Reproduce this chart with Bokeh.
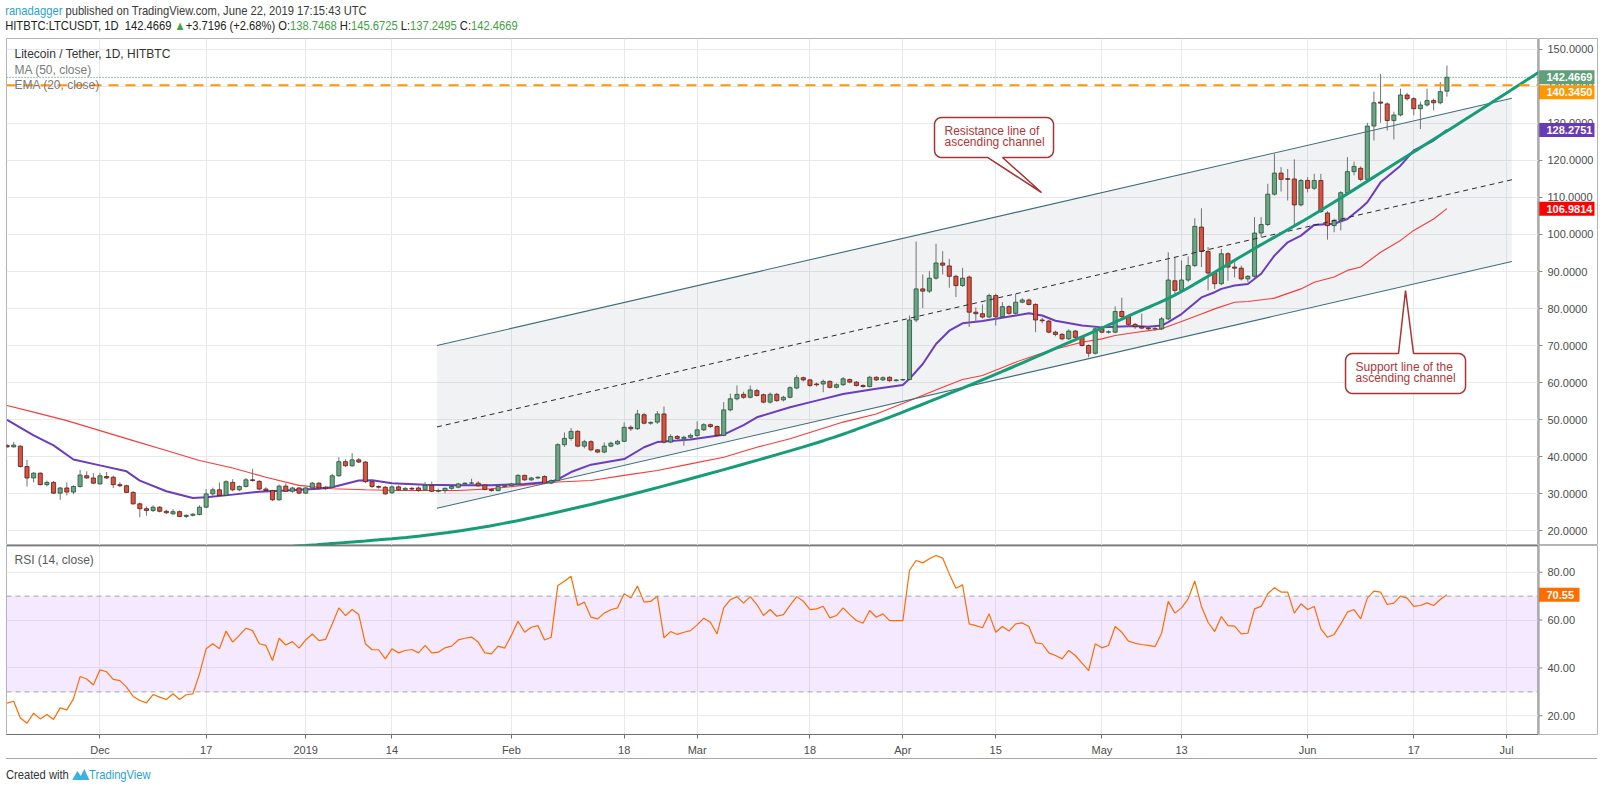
import numpy as np
import pandas as pd
from bokeh.plotting import figure
from bokeh.models import Range1d, FixedTicker, Label, Span, Div
from bokeh.layouts import column, row
from bokeh.core.properties import value
from bokeh.embed import file_html
from bokeh.resources import INLINE

# ---------------- data ----------------
BASE = pd.Timestamp("2018-12-01")
candle_dates = pd.date_range("2018-11-17", "2019-06-22", freq="D")

opens = [43.0, 42.6, 42.8, 37.3, 34.2, 35.5, 32.4, 33.0, 30.1, 31.5,
         30.4, 31.9, 34.8, 34.2, 32.6, 34.6, 34.4, 32.4, 32.1, 30.3,
         27.2, 25.9, 25.4, 26.3, 25.2, 24.5, 25.1, 23.8, 24.1, 24.3,
         26.3, 29.9, 31.0, 29.5, 33.0, 31.0, 31.9, 33.7, 33.3, 31.2,
         30.8, 28.3, 32.0, 30.6, 31.5, 30.1, 31.5, 32.8, 31.7, 31.7,
         34.8, 38.6, 37.5, 39.1, 38.5, 33.2, 31.9, 31.7, 30.2, 31.8,
         31.0, 31.4, 31.5, 31.0, 32.2, 30.6, 30.8, 31.4, 31.7, 32.6,
         32.8, 32.8, 32.3, 31.1, 30.8, 31.9, 32.2, 32.6, 34.9, 33.7,
         34.2, 34.6, 32.8, 33.5, 43.2, 44.9, 46.8, 42.8, 44.0, 41.8,
         41.2, 42.8, 43.4, 44.1, 47.9, 47.5, 51.3, 49.0, 49.3, 51.5,
         43.9, 45.4, 44.9, 45.2, 45.7, 47.2, 48.6, 48.1, 45.7, 52.6,
         55.6, 56.8, 56.0, 57.8, 56.7, 54.7, 56.8, 55.3, 56.0, 58.5,
         61.3, 60.7, 59.6, 59.6, 60.3, 58.7, 59.4, 60.8, 60.1, 59.2,
         58.9, 61.4, 60.7, 61.4, 60.5, 60.7, 60.8, 76.9, 85.3, 84.7,
         88.2, 92.3, 91.5, 88.7, 86.2, 88.5, 79.0, 78.6, 77.7, 83.5,
         77.8, 80.5, 78.7, 81.7, 82.3, 81.1, 76.9, 76.6, 73.6, 73.0,
         71.8, 73.9, 72.2, 70.0, 67.9, 74.5, 73.6, 73.6, 79.2, 77.8,
         75.7, 75.1, 74.7, 74.5, 74.5, 77.2, 87.5, 84.9, 87.7, 91.6,
         102.0, 95.4, 89.6, 86.7, 94.8, 91.2, 90.9, 88.0, 88.7, 100.4,
         102.7, 110.9, 116.6, 115.1, 115.0, 108.0, 114.6, 112.5, 114.6, 105.8,
         102.4, 103.8, 111.3, 117.0, 117.9, 114.9, 129.3, 135.8, 135.3, 130.8,
         132.3, 137.7, 136.7, 134.0, 135.0, 136.2, 135.6, 138.7468]

highs = [43.3, 43.9, 43.0, 39.1, 35.8, 35.7, 33.5, 33.4, 31.8, 33.0,
         32.2, 36.4, 36.0, 35.5, 35.6, 35.8, 34.8, 33.1, 32.4, 30.6,
         27.6, 26.5, 26.8, 26.6, 25.6, 25.8, 25.4, 24.4, 24.7, 26.8,
         31.2, 31.6, 33.0, 33.6, 33.9, 32.2, 34.2, 36.7, 33.6, 31.7,
         31.0, 32.4, 32.7, 31.8, 31.7, 31.8, 33.1, 33.0, 32.0, 35.3,
         39.8, 39.3, 40.9, 39.6, 38.8, 33.6, 32.2, 32.0, 32.2, 32.2,
         31.7, 31.8, 31.9, 33.1, 33.2, 31.3, 31.6, 32.1, 32.9, 33.0,
         34.0, 33.3, 32.5, 31.4, 32.3, 32.4, 32.9, 35.2, 35.1, 34.5,
         34.6, 34.9, 33.8, 43.6, 46.5, 47.7, 47.1, 44.5, 44.4, 42.0,
         43.8, 44.0, 44.5, 49.2, 48.4, 52.6, 51.8, 49.5, 52.3, 53.5,
         46.0, 45.8, 45.6, 46.2, 49.5, 49.0, 48.9, 48.4, 54.7, 57.0,
         59.2, 57.5, 59.2, 58.3, 57.0, 57.3, 57.2, 56.4, 59.0, 62.0,
         61.6, 61.0, 60.0, 60.8, 60.6, 59.8, 61.5, 61.1, 60.4, 59.5,
         61.8, 61.7, 61.7, 61.7, 60.9, 61.0, 78.1, 98.1, 89.2, 90.1,
         97.5, 95.5, 93.4, 89.1, 91.0, 88.9, 80.3, 81.1, 84.0, 84.0,
         81.7, 80.9, 84.0, 82.8, 82.7, 81.4, 77.5, 76.9, 74.0, 73.4,
         74.4, 74.2, 72.5, 70.3, 74.9, 75.3, 74.1, 80.6, 82.9, 78.2,
         76.1, 78.6, 75.1, 75.0, 77.7, 95.2, 93.9, 93.0, 94.1, 104.4,
         107.1, 96.6, 90.0, 96.1, 95.2, 92.5, 91.6, 89.0, 104.7, 104.7,
         113.7, 121.8, 118.2, 117.7, 120.3, 115.0, 115.5, 116.4, 116.4, 106.3,
         104.3, 111.7, 120.9, 119.7, 118.4, 130.2, 138.6, 143.4, 135.7, 133.2,
         139.4, 138.3, 137.1, 135.9, 139.4, 136.7, 141.2, 145.6725]

lows = [42.4, 42.4, 37.0, 31.9, 33.0, 32.2, 31.9, 29.9, 28.3, 29.5,
        29.8, 31.6, 34.0, 32.5, 32.4, 33.9, 31.5, 31.7, 30.1, 27.0,
        23.6, 24.0, 25.0, 24.9, 24.5, 24.3, 23.6, 23.4, 23.8, 24.1,
        26.0, 29.4, 29.2, 29.3, 30.6, 30.6, 31.6, 33.2, 30.9, 30.5,
        28.0, 28.1, 30.4, 30.2, 29.8, 29.9, 31.2, 31.2, 31.0, 31.5,
        34.5, 37.2, 37.2, 38.2, 32.8, 31.5, 31.3, 29.7, 29.9, 30.8,
        30.7, 30.9, 30.5, 30.8, 30.4, 30.3, 30.1, 31.0, 31.4, 32.3,
        32.5, 31.8, 30.9, 30.5, 30.6, 31.6, 31.9, 32.3, 33.4, 33.4,
        33.9, 32.5, 32.5, 33.3, 42.6, 44.3, 42.5, 42.2, 41.4, 40.9,
        40.9, 42.5, 43.1, 43.9, 46.9, 47.2, 48.7, 48.6, 48.8, 43.5,
        43.6, 44.6, 42.9, 44.8, 45.3, 46.9, 47.7, 45.4, 45.5, 52.2,
        55.2, 55.6, 55.7, 56.2, 54.4, 54.3, 54.8, 54.9, 55.7, 58.2,
        60.3, 58.8, 58.9, 57.4, 58.4, 58.4, 59.1, 59.8, 58.9, 58.6,
        58.7, 60.4, 60.4, 60.2, 60.3, 60.4, 60.6, 76.3, 80.1, 84.2,
        87.8, 89.2, 85.6, 83.1, 85.8, 75.0, 76.3, 77.3, 77.4, 75.4,
        77.5, 78.3, 78.4, 81.4, 80.8, 73.6, 76.0, 73.3, 72.5, 71.4,
        71.5, 71.9, 69.7, 66.8, 67.6, 73.3, 73.2, 73.3, 77.4, 75.3,
        74.5, 74.4, 74.1, 74.0, 74.2, 76.9, 84.0, 84.5, 87.2, 91.2,
        91.2, 84.9, 85.3, 86.3, 87.5, 88.4, 87.6, 87.1, 88.3, 99.3,
        102.3, 110.5, 111.6, 109.2, 102.6, 107.6, 111.4, 112.0, 105.8, 98.6,
        100.6, 101.1, 110.9, 116.0, 114.4, 114.5, 125.4, 130.2, 128.1, 125.7,
        131.9, 136.2, 132.2, 128.5, 134.6, 133.5, 135.2, 137.2495]

closes = [42.6, 43.1, 37.3, 34.2, 35.5, 32.4, 33.0, 30.1, 31.5, 30.4,
          31.9, 35.0, 34.2, 32.8, 34.8, 34.2, 32.4, 32.1, 30.3, 27.2,
          25.9, 25.4, 26.3, 25.2, 24.8, 25.1, 23.8, 24.1, 24.4, 26.3,
          29.9, 31.0, 29.5, 33.2, 31.0, 31.9, 33.7, 33.5, 31.2, 30.8,
          28.3, 32.0, 30.6, 31.5, 30.1, 31.5, 32.8, 31.5, 31.3, 34.8,
          38.6, 37.5, 39.1, 38.5, 33.2, 31.9, 31.7, 29.9, 31.8, 31.0,
          31.4, 31.2, 30.8, 32.2, 30.6, 30.8, 31.4, 31.9, 32.6, 32.8,
          32.85, 32.1, 31.1, 30.8, 31.9, 32.1, 32.6, 34.9, 33.7, 34.2,
          34.4, 32.8, 33.5, 43.2, 44.9, 46.8, 42.8, 44.0, 41.8, 41.2,
          42.8, 43.6, 44.1, 47.9, 47.5, 51.5, 49.0, 49.2, 51.5, 43.9,
          45.4, 44.9, 45.2, 45.7, 47.2, 48.6, 48.1, 45.7, 52.6, 55.6,
          56.8, 56.0, 58.0, 56.5, 54.7, 56.8, 55.1, 56.0, 58.6, 61.3,
          60.7, 59.2, 59.4, 60.3, 58.7, 59.4, 61.0, 60.1, 59.2, 58.9,
          61.4, 60.7, 61.3, 60.5, 60.7, 60.8, 76.9, 85.3, 84.7, 88.2,
          92.3, 91.7, 88.7, 86.2, 88.2, 79.0, 78.6, 77.7, 83.5, 77.8,
          80.5, 78.7, 81.7, 82.3, 81.1, 76.9, 76.7, 73.6, 73.0, 71.8,
          73.9, 72.2, 70.0, 67.9, 74.5, 73.6, 73.7, 79.2, 77.8, 75.7,
          75.1, 74.7, 74.5, 74.6, 77.2, 87.7, 84.9, 87.7, 91.6, 102.2,
          95.4, 89.6, 86.7, 94.8, 91.2, 90.9, 88.0, 88.7, 100.4, 102.7,
          110.9, 116.6, 114.9, 114.9, 108.0, 114.6, 112.5, 114.6, 106.2, 102.4,
          103.8, 111.3, 117.0, 118.4, 114.9, 129.3, 135.6, 135.5, 130.8, 132.3,
          137.7, 136.7, 134.0, 135.0, 136.2, 135.6, 138.6, 142.4669]

rsi14 = [25.3, 26.1, 19.1, 16.9, 21.1, 18.7, 20.5, 18.5, 23.3, 22.5,
         27.1, 36.4, 35.4, 32.9, 39.2, 38.4, 35.2, 34.7, 32.0, 28.1,
         26.4, 25.4, 28.9, 27.8, 26.8, 29.2, 26.8, 28.8, 29.2, 37.5,
         48.0, 50.1, 48.0, 55.4, 50.8, 53.6, 56.6, 55.6, 50.1, 49.4,
         43.1, 52.4, 49.6, 51.0, 48.3, 51.7, 54.2, 51.4, 51.9, 58.4,
         65.1, 61.9, 64.4, 62.3, 50.1, 47.6, 47.6, 43.8, 48.0, 46.3,
         47.3, 47.7, 46.3, 49.4, 46.3, 46.6, 48.4, 49.1, 51.7, 52.4,
         52.9, 50.8, 46.3, 45.9, 49.1, 48.3, 53.6, 59.5, 54.9, 57.0,
         57.7,
         51.7, 52.8, 74.4, 76.2, 78.3, 66.1, 67.5, 61.2, 60.5, 62.9,
         64.3, 65.1, 71.0, 69.2, 74.2, 67.5, 67.8, 70.0, 52.6, 55.2,
         54.0, 54.9, 55.6, 58.0, 60.8, 59.1, 54.2, 65.1, 68.5, 69.8,
         67.1, 69.8, 66.5, 61.9, 64.4, 61.6, 62.3, 66.1, 69.8, 67.9,
         64.4, 64.7, 65.8, 60.9, 61.9, 65.1, 62.3, 59.8, 58.7, 64.0,
         61.2, 62.6, 59.8, 59.8, 59.8, 80.7, 84.9, 83.9, 85.6, 87.0,
         85.9, 79.3, 73.3, 74.7, 58.4, 57.7, 56.8, 62.6, 54.9, 57.3,
         55.4, 58.4, 58.8, 57.3, 50.5, 50.1, 46.3, 45.2, 43.8, 47.3,
         45.2, 42.0, 38.9, 50.1, 48.4, 49.4, 57.3, 54.9, 51.2, 50.3,
         49.8, 49.4, 48.9, 54.5, 67.8, 62.9, 65.1, 68.9, 76.3, 65.7,
         59.1, 55.2, 61.5, 57.7, 57.5, 54.2, 54.5, 64.7, 65.7, 71.0,
         73.5, 71.7, 71.7, 62.9, 66.8, 64.4, 65.7, 56.3, 52.8, 54.0,
         58.4, 63.3, 64.4, 60.5, 69.2, 72.1, 71.7, 66.5, 67.1, 70.0,
         69.2, 65.7, 66.1, 67.2, 66.1, 68.6, 70.55]

ema20_dates = ["2018-11-17", "2018-11-21", "2018-11-24", "2018-11-27", "2018-12-01", "2018-12-05",
               "2018-12-07", "2018-12-11", "2018-12-15", "2018-12-17", "2018-12-21", "2018-12-25",
               "2018-12-29", "2019-01-03", "2019-01-05", "2019-01-09", "2019-01-11", "2019-01-14",
               "2019-01-19", "2019-01-24", "2019-01-29", "2019-02-03", "2019-02-07", "2019-02-08",
               "2019-02-10", "2019-02-13", "2019-02-18", "2019-02-21", "2019-02-23", "2019-02-26",
               "2019-02-28", "2019-03-05", "2019-03-08", "2019-03-10", "2019-03-15", "2019-03-19",
               "2019-03-23", "2019-03-28", "2019-04-01", "2019-04-02", "2019-04-04", "2019-04-06",
               "2019-04-08", "2019-04-10", "2019-04-13", "2019-04-18", "2019-04-20", "2019-04-22",
               "2019-04-24", "2019-04-28", "2019-05-01", "2019-05-03", "2019-05-06", "2019-05-08",
               "2019-05-10", "2019-05-11", "2019-05-13", "2019-05-16", "2019-05-18", "2019-05-19",
               "2019-05-21", "2019-05-23", "2019-05-25", "2019-05-27", "2019-05-29", "2019-05-31",
               "2019-06-02", "2019-06-05", "2019-06-07", "2019-06-09", "2019-06-10", "2019-06-12",
               "2019-06-15", "2019-06-17", "2019-06-20", "2019-06-22"]
ema20_vals = [49.9, 45.7, 43.0, 39.2, 37.6, 36.0, 33.5, 30.6, 28.8, 29.0, 29.7, 30.5, 30.8,
              31.3, 31.7, 33.5, 33.6, 32.8, 32.4, 32.2, 32.2, 32.6, 33.2, 33.8, 35.8, 37.8,
              39.3, 42.5, 43.9, 44.3, 44.6, 45.9, 48.5, 50.6, 53.3, 55.1, 56.9, 58.3, 59.3,
              61.0, 65.0, 70.4, 74.0, 76.0, 76.6, 78.1, 78.7, 78.1, 76.7, 75.4, 74.9, 75.1,
              75.3, 75.1, 75.4, 76.3, 78.5, 83.0, 84.4, 85.3, 86.2, 86.6, 89.4, 94.3, 97.9,
              99.7, 102.6, 102.9, 104.2, 107.1, 108.7, 114.1, 118.6, 122.7, 125.4, 128.2751]

ma50_dates = ["2018-11-17", "2018-11-21", "2018-11-26", "2018-12-01", "2018-12-06", "2018-12-11",
              "2018-12-16", "2018-12-21", "2018-12-26", "2018-12-31", "2019-01-05", "2019-01-10",
              "2019-01-15", "2019-01-24", "2019-01-29", "2019-02-05", "2019-02-08", "2019-02-13",
              "2019-02-18", "2019-02-23", "2019-02-28", "2019-03-05", "2019-03-10", "2019-03-15",
              "2019-03-23", "2019-03-28", "2019-04-02", "2019-04-07", "2019-04-10", "2019-04-13",
              "2019-04-18", "2019-04-23", "2019-04-28", "2019-05-01", "2019-05-03", "2019-05-06",
              "2019-05-10", "2019-05-13", "2019-05-16", "2019-05-18", "2019-05-21", "2019-05-23",
              "2019-05-27", "2019-05-31", "2019-06-02", "2019-06-05", "2019-06-07", "2019-06-09",
              "2019-06-12", "2019-06-15", "2019-06-17", "2019-06-20", "2019-06-22"]
ma50_vals = [53.8, 52.0, 49.7, 47.0, 44.3, 41.6, 38.9, 36.9, 34.4, 32.2, 31.3, 31.0, 30.8,
             30.8, 31.3, 32.6, 33.1, 33.5, 34.9, 36.2, 38.0, 39.8, 42.5, 44.8, 49.3, 51.5,
             55.1, 58.7, 60.8, 61.9, 65.5, 68.6, 70.9, 71.8, 72.7, 73.5, 74.5, 76.5, 78.5,
             79.9, 81.7, 81.9, 82.8, 85.3, 87.1, 88.5, 90.3, 91.2, 95.2, 98.4, 101.1, 104.2,
             106.9814]

tick_dates = ["2018-12-01", "2018-12-17", "2019-01-01", "2019-01-14", "2019-02-01", "2019-02-18",
              "2019-03-01", "2019-03-18", "2019-04-01", "2019-04-15", "2019-05-01", "2019-05-13",
              "2019-06-01", "2019-06-17", "2019-07-01"]
tick_labels = ["Dec", "17", "2019", "14", "Feb", "18", "Mar", "18", "Apr", "15", "May", "13",
               "Jun", "17", "Jul"]
price_ticks = [20, 30, 40, 50, 60, 70, 80, 90, 100, 110, 120, 130, 140, 150]
rsi_ticks = [20, 40, 60, 80]

# drawing tools (channel, curve, horizontal line)
channel_dates = ["2019-01-20 19:00", "2019-07-01 19:00"]
channel_upper = [70.0, 136.8]
channel_mid = [48.0, 114.8]
channel_lower = [26.0, 92.7]
curve_days = [20.0, 34.4, 54.6, 76.4, 104.1, 117.6, 132.7, 147.8, 155.3, 162.8, 173.8,
              183.5, 195.5, 205.5, 216.9]
curve_prices = [14.8, 16.4, 20.0, 28.1, 41.6, 49.7, 60.5, 72.2, 78.2, 84.4, 96.0,
                106.0, 119.5, 130.8, 143.9]
hline_level = 140.345
last_price = 142.4669


def to_day(s):
    return ((pd.to_datetime(pd.Series(s)) - BASE) / pd.Timedelta(days=1)).values


x = to_day(candle_dates)
o = np.array(opens); h = np.array(highs); l = np.array(lows); c = np.array(closes)
up = c >= o


# reference calibration (pixels -> data), used only to place drawings / texts
def px2day(px):
    return (px - 99.5) / 6.635


def px2price(py):
    return 150 - (py - 49) / 3.7


def smooth(xs, ys, n=10):
    P = [np.array(v) for v in zip(xs, ys)]
    P = [P[0]] + P + [P[-1]]
    out = []
    for i in range(1, len(P) - 2):
        p0, p1, p2, p3 = P[i - 1], P[i], P[i + 1], P[i + 2]
        for t in np.linspace(0, 1, n, endpoint=False):
            out.append(0.5 * (2 * p1 + (-p0 + p2) * t + (2 * p0 - 5 * p1 + 4 * p2 - p3) * t ** 2
                              + (-p0 + 3 * p1 - 3 * p2 + p3) * t ** 3))
    out.append(P[-2])
    out = np.array(out)
    return out[:, 0], out[:, 1]


FONT = "Liberation Sans"
FW = 1532
AXW = 60
xr = Range1d(-14.09, 216.8)
py_rng = Range1d(15.95, 152.97)
ry_rng = Range1d(12.19, 91.16)

UP, DOWN = "#6ba583", "#d75442"
UP_LINE, DOWN_LINE = "#225437", "#5b1a13"
GRID = "#e9e9eb"
BORDER = "#b4b4b4"
AXC = "#8c8c8c"
xt = [int(v) for v in to_day(tick_dates)]

# ---------------- main price panel ----------------
p = figure(frame_width=FW, frame_height=507, x_range=xr, y_range=py_rng,
           output_backend="svg", toolbar_location=None, x_axis_location=None,
           y_axis_location=None, min_border_left=6, min_border_right=0,
           min_border_top=0, min_border_bottom=0)
p.background_fill_color = "white"
p.border_fill_color = "white"
p.outline_line_color = BORDER
p.ygrid.grid_line_color = GRID
p.xgrid.grid_line_color = GRID
p.xgrid.ticker = FixedTicker(ticks=xt)
p.ygrid.ticker = FixedTicker(ticks=price_ticks)

cd = to_day(channel_dates)
p.patch(x=[cd[0], cd[1], cd[1], cd[0]],
        y=[channel_lower[0], channel_lower[1], channel_upper[1], channel_upper[0]],
        fill_color="#8f97a8", fill_alpha=0.13, line_color=None)

p.line(to_day(ma50_dates), ma50_vals, line_color="#f53b3b", line_width=1.1)
p.line(to_day(ema20_dates), ema20_vals, line_color="#6a3cbf", line_width=2)

p.segment(x0=x, y0=l, x1=x, y1=h, line_color="#737375", line_width=1)
p.vbar(x=x[up], bottom=o[up], top=c[up], width=0.62, fill_color=UP, line_color=UP_LINE,
       line_width=0.8)
p.vbar(x=x[~up], bottom=c[~up], top=o[~up], width=0.62, fill_color=DOWN,
       line_color=DOWN_LINE, line_width=0.8)

p.line(cd, channel_upper, line_color="#3f6e7a", line_width=1.1)
p.line(cd, channel_lower, line_color="#3f6e7a", line_width=1.1)
p.line(cd, channel_mid, line_color="#2a2a2a", line_width=1, line_dash="5 4")

sx, sy = smooth(curve_days, curve_prices)
p.line(sx, sy, line_color="#179c78", line_width=3)

p.add_layout(Span(location=last_price, dimension="width", line_color="#2f8a55",
                  line_width=1, line_dash="1 2"))
p.add_layout(Span(location=hline_level, dimension="width", line_color="#ff9800",
                  line_width=2, line_dash="10 7"))


def callout(L, T, R, B, rad, side, x1, x2, tip):
    pts = []

    def arc(cx, cy, a0, a1):
        for a in np.linspace(a0, a1, 7):
            pts.append((cx + rad * np.cos(a), cy + rad * np.sin(a)))

    arc(L + rad, T + rad, np.pi, 1.5 * np.pi)
    if side == "top":
        pts.extend([(x1, T), tip, (x2, T)])
    arc(R - rad, T + rad, 1.5 * np.pi, 2 * np.pi)
    arc(R - rad, B - rad, 0, 0.5 * np.pi)
    if side == "bottom":
        pts.extend([(x2, B), tip, (x1, B)])
    arc(L + rad, B - rad, 0.5 * np.pi, np.pi)
    p.patch([px2day(a) for a, b in pts], [px2price(b) for a, b in pts],
            fill_color="white", line_color="#a83434", line_width=1.5)


CALL = "#b0363a"
callout(934, 117, 1053, 157, 7, "bottom", 987, 1002, (1041, 192))
for txt, yy in [("Resistance line of", 130.5), ("ascending channel", 141.5)]:
    p.add_layout(Label(x=px2day(944), y=px2price(yy), text=txt, text_font=FONT,
                       text_font_size="12px", text_color=CALL, text_baseline="middle"))
callout(1345, 353, 1465, 393, 7, "top", 1398, 1413, (1405, 290))
for txt, yy in [("Support line of the", 366.5), ("ascending channel", 377.5)]:
    p.add_layout(Label(x=px2day(1355), y=px2price(yy), text=txt, text_font=FONT,
                       text_font_size="12px", text_color=CALL, text_baseline="middle"))

for txt, yy, col in [("Litecoin / Tether, 1D, HITBTC", 54, "#333333"),
                     ("MA (50, close)", 70, "#7a7a7a"),
                     ("EMA (20, close)", 85, "#7a7a7a")]:
    p.add_layout(Label(x=px2day(14), y=px2price(yy), text=txt, text_font=FONT,
                       text_font_size="12px", text_color=col, text_baseline="middle"))


# ---------------- right-hand price scales (axis column) ----------------
def axis_column(yr, frame_h, ticks, fmt, tags, bottom=0):
    a = figure(frame_width=AXW, frame_height=frame_h, x_range=Range1d(0, AXW), y_range=yr,
               output_backend="svg", toolbar_location=None, x_axis_location=None,
               y_axis_location=None, min_border_left=0, min_border_right=0,
               min_border_top=0, min_border_bottom=bottom)
    a.xgrid.visible = False
    a.ygrid.visible = False
    a.background_fill_color = "white"
    a.border_fill_color = "white"
    a.outline_line_color = BORDER
    a.add_layout(Span(location=0.5, dimension="height", line_color=AXC, line_width=1))
    a.segment(x0=[0] * len(ticks), x1=[4] * len(ticks), y0=ticks, y1=ticks, line_color=AXC)
    a.text(x=[9] * len(ticks), y=ticks, text=[fmt % t for t in ticks],
           text_font=value(FONT), text_font_size="11px", text_color="#4d4d4d",
           text_baseline="middle")
    unit = (yr.end - yr.start) / frame_h          # data units per pixel
    placed = []
    for val, bg, txt, wdt in sorted(tags, key=lambda t: -t[0]):
        ctr = val
        for prev in placed:
            if abs(prev - ctr) < 15 * unit:
                ctr = prev - 15 * unit
        placed.append(ctr)
        a.quad(left=[0], right=[wdt], bottom=[ctr - 7 * unit], top=[ctr + 7 * unit],
               fill_color=bg, line_color=None)
        a.text(x=[8], y=[ctr], text=[txt], text_font=value(FONT), text_font_size="11px",
               text_font_style="bold", text_color="white", text_baseline="middle")
    return a


pa = axis_column(py_rng, 507, price_ticks, "%.4f",
                 [(last_price, "#5f9f7a", "142.4669", 56),
                  (hline_level, "#ff9800", "140.3450", 56),
                  (ema20_vals[-1], "#673ab7", "128.2751", 56),
                  (ma50_vals[-1], "#ff0000", "106.9814", 56)])

# ---------------- RSI panel ----------------
r = figure(frame_width=FW, frame_height=189, x_range=xr, y_range=ry_rng,
           output_backend="svg", toolbar_location=None, y_axis_location=None,
           min_border_left=6, min_border_right=0, min_border_top=0, min_border_bottom=24)
r.background_fill_color = "white"
r.border_fill_color = "white"
r.outline_line_color = BORDER
r.ygrid.grid_line_color = GRID
r.xgrid.grid_line_color = GRID
r.ygrid.ticker = FixedTicker(ticks=rsi_ticks)
r.xaxis.ticker = FixedTicker(ticks=xt)
r.xaxis.major_label_overrides = {d: lab for d, lab in zip(xt, tick_labels)}
r.xaxis.major_label_text_font = FONT
r.xaxis.major_label_text_font_size = "11px"
r.xaxis.major_label_text_color = "#4d4d4d"
r.xaxis.axis_line_color = "#6f6f6f"
r.xaxis.major_tick_line_color = "#6f6f6f"
r.xaxis.major_tick_out = 4
r.xaxis.major_tick_in = 0
r.xaxis.minor_tick_line_color = None
r.xaxis.major_label_standoff = 5

r.quad(left=xr.start, right=xr.end, bottom=30, top=70, fill_color="#b36cf5",
       fill_alpha=0.15, line_color=None)
for lv in (70, 30):
    r.add_layout(Span(location=lv, dimension="width", line_color="#a2a2b0",
                      line_width=1, line_dash="5 4"))
r.line(x, rsi14, line_color="#ff6d00", line_width=1.2)
r.add_layout(Span(location=ry_rng.end, dimension="width", line_color="#3c3c3c",
                  line_width=1.5))
r.add_layout(Label(x=px2day(14), y=84.9, text="RSI (14, close)", text_font=FONT,
                   text_font_size="12px", text_color="#5a5a5a", text_baseline="middle"))

ra = axis_column(ry_rng, 189, rsi_ticks, "%.2f",
                 [(rsi14[-1], "#ff6d00", "70.55", 41)], bottom=24)

# ---------------- header / footer ----------------
G = "#43a047"
STY = ("font-family:'Liberation Sans',sans-serif;font-size:13px;line-height:14.5px;"
       "white-space:nowrap;transform:scaleX(0.86);transform-origin:0 0;")
header = Div(width=1598, height=38, margin=(0, 0, 0, 0), text=(
    f"<div style=\"{STY}padding:4px 0 0 6px;color:#3a3a3a\">"
    "<div><span style='color:#2a9fd8'>ranadagger</span> published on TradingView.com, "
    "June 22, 2019 17:15:43 UTC</div>"
    "<div style='color:#222'>HITBTC:LTCUSDT, 1D&nbsp; 142.4669 "
    f"<span style='color:{G}'>&#9650;</span>+3.7196 (+2.68%) "
    f"O:<span style='color:{G}'>138.7468</span> H:<span style='color:{G}'>145.6725</span> "
    f"L:<span style='color:{G}'>137.2495</span> C:<span style='color:{G}'>142.4669</span>"
    "</div></div>"))

footer = Div(width=1598, height=30, margin=(0, 0, 0, 0), text=(
    "<div style='margin-left:6px;width:1591px;height:29px;border-top:1px solid #a8a8a8'>"
    f"<div style=\"{STY}padding:9px 0 0 0;color:#333\">Created with "
    "<svg width='20' height='12' viewBox='0 0 20 12' style='vertical-align:-1px'>"
    "<path d='M0 12 L6 3 L10 8 L14 1 L20 12 Z' fill='#3bb0e4'/></svg>"
    "<span style='color:#2a9fd8'>TradingView</span></div></div>"))

layout = column(header, row(p, pa, spacing=0), row(r, ra, spacing=0), footer, spacing=0)
open("out.html", "w").write(file_html(layout, INLINE))
